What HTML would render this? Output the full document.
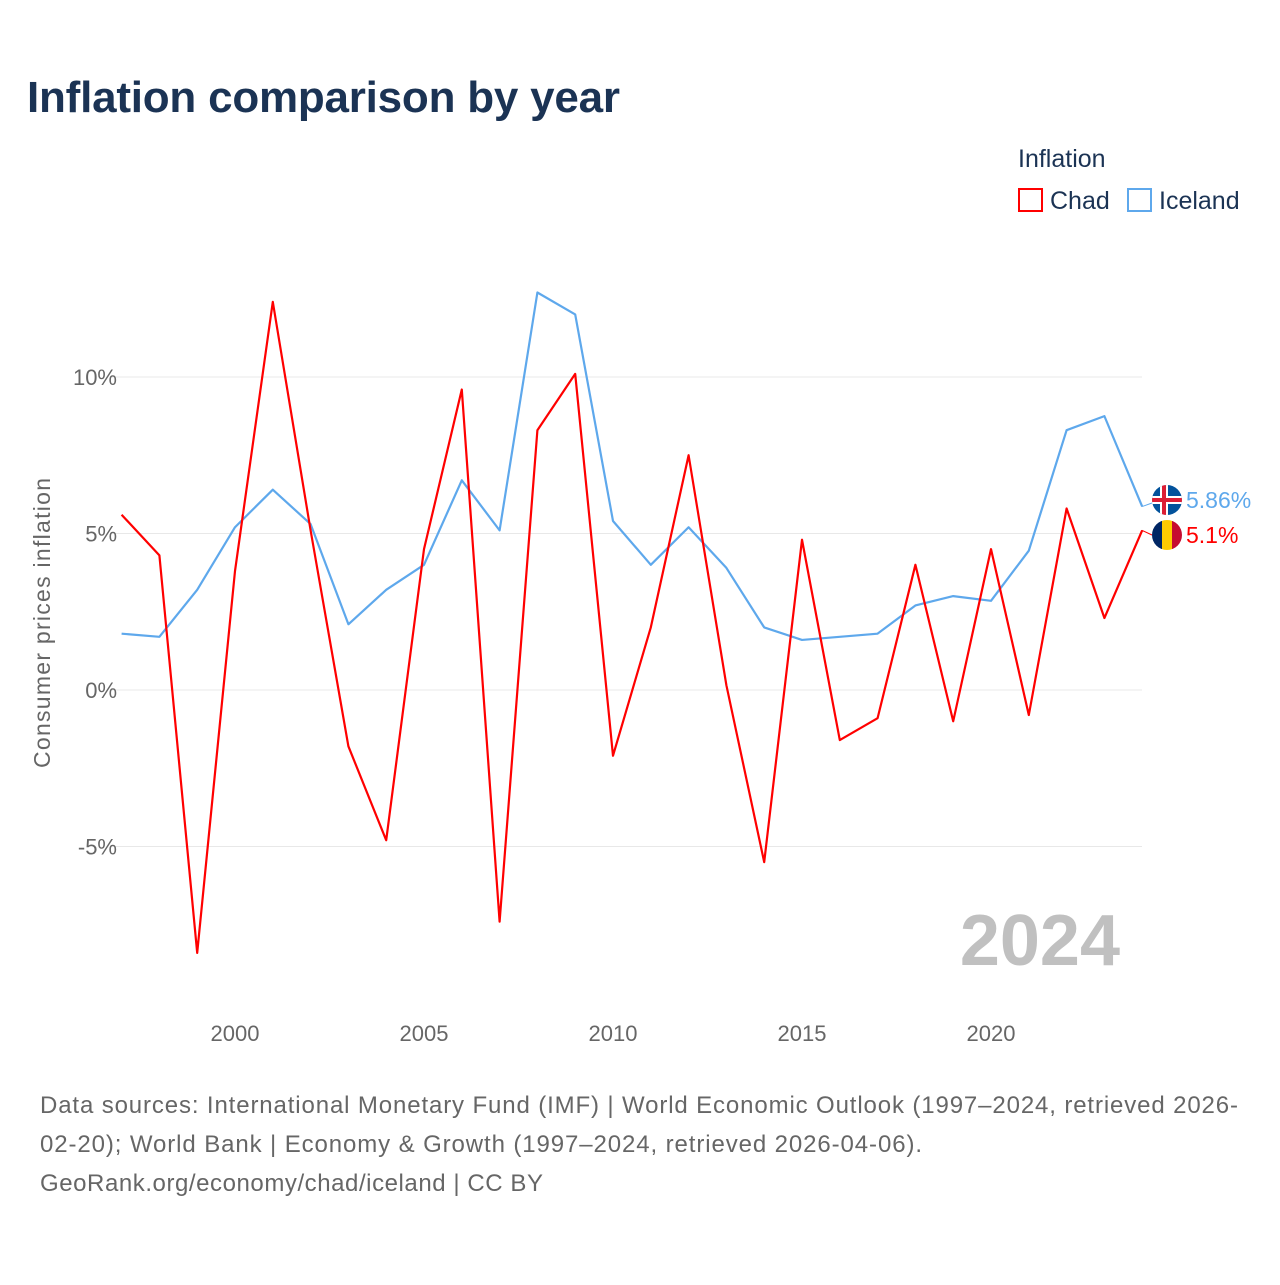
<!DOCTYPE html>
<html><head><meta charset="utf-8"><style>
body{margin:0;background:#fff;width:1280px;height:1280px;overflow:hidden;font-family:"Liberation Sans",sans-serif}
</style></head><body>
<svg id="chart" width="1280" height="1280" xmlns="http://www.w3.org/2000/svg" font-family="Liberation Sans, sans-serif">
<defs>
<clipPath id="ci"><circle cx="1167" cy="500" r="15"/></clipPath>
<clipPath id="cc"><circle cx="1167" cy="535" r="15"/></clipPath>
</defs>
<text x="27" y="112" font-size="44" font-weight="bold" fill="#1b3354" textLength="593">Inflation comparison by year</text>
<g>
<text x="1018" y="167" font-size="25" fill="#1b3354">Inflation</text>
<g><rect x="1019" y="189" width="23" height="22" fill="none" stroke="#f00" stroke-width="2"/><text x="1050" y="209" font-size="25" fill="#1b3354">Chad</text></g>
<g><rect x="1128" y="189" width="23" height="22" fill="none" stroke="#5ea8ec" stroke-width="2"/><text x="1159" y="209" font-size="25" fill="#1b3354">Iceland</text></g>
</g>
<text transform="translate(50,623) rotate(-90)" text-anchor="middle" font-size="23" fill="#666" textLength="290">Consumer prices inflation</text>
<text x="1120" y="965" text-anchor="end" font-size="72" font-weight="bold" fill="#c0c0c0">2024</text>
<g id="grid"></g><g id="xt"></g><g id="lines"></g><g id="ends"></g>
<text x="40" y="1113" font-size="24" fill="#666" textLength="1198">Data sources: International Monetary Fund (IMF) | World Economic Outlook (1997–2024, retrieved 2026-</text>
<text x="40" y="1152" font-size="24" fill="#666" textLength="882">02-20); World Bank | Economy &amp; Growth (1997–2024, retrieved 2026-04-06).</text>
<text x="40" y="1191" font-size="24" fill="#666" textLength="503">GeoRank.org/economy/chad/iceland | CC BY</text>
</svg>
<script>
const years=[1997,1998,1999,2000,2001,2002,2003,2004,2005,2006,2007,2008,2009,2010,2011,2012,2013,2014,2015,2016,2017,2018,2019,2020,2021,2022,2023,2024];
const chad=[5.6,4.3,-8.4,3.8,12.4,5.1,-1.8,-4.8,4.5,9.6,-7.4,8.3,10.1,-2.1,2.0,7.5,0.15,-5.5,4.8,-1.6,-0.9,4.0,-1.0,4.5,-0.8,5.8,2.3,5.1];
const iceland=[1.8,1.7,3.2,5.2,6.4,5.3,2.1,3.2,4.0,6.7,5.1,12.7,12.0,5.4,4.0,5.2,3.9,2.0,1.6,1.7,1.8,2.7,3.0,2.85,4.45,8.3,8.75,5.86];
const yTicks=[-5,0,5,10];
const yTickLabels=["-5%","0%","5%","10%"];
const xTicks=[2000,2005,2010,2015,2020];
const NS="http://www.w3.org/2000/svg";
const X=y=>235+(y-2000)*37.8;
const Y=v=>690-v*31.3;
function mk(t,a,p){const e=document.createElementNS(NS,t);for(const k in a)e.setAttribute(k,a[k]);p.appendChild(e);return e;}
const grid=document.getElementById('grid');
yTicks.forEach((t,i)=>{
 const l=mk('line',{x1:110,x2:1142,y1:Y(t),y2:Y(t),stroke:'#e8e8e8','stroke-width':1},grid);
 
 
 const tx=mk('text',{x:117,y:Y(t)+8,'text-anchor':'end','font-size':22,fill:'#666'},grid);
 tx.textContent=yTickLabels[i];
 
 
});
const xt=document.getElementById('xt');
xTicks.forEach(t=>{
 const tx=mk('text',{x:X(t),y:1041,'text-anchor':'middle','font-size':22,fill:'#666'},xt);
 tx.textContent=t;
 
 
});
const lines=document.getElementById('lines');
[[iceland,'#5ea8ec','iceland-line'],[chad,'#f00','chad-line']].forEach(([d,c,n])=>{
 const p=mk('polyline',{points:d.map((v,i)=>X(years[i])+','+Y(v)).join(' '),fill:'none',stroke:c,'stroke-width':2.2,'stroke-linejoin':'round'},lines);
 
 
});
const ends=document.getElementById('ends');
const last=years.length-1;
let yi=500, yc=535;
mk('line',{x1:1142,x2:1152,y1:Y(iceland[last]),y2:yi+3,stroke:'#5ea8ec'},ends);
mk('line',{x1:1142,x2:1152,y1:Y(chad[last]),y2:yc,stroke:'#f00'},ends);
const fi=mk('g',{'clip-path':'url(#ci)'},ends);


mk('rect',{x:1150,y:yi-17,width:34,height:34,fill:'#02529c'},fi);
mk('rect',{x:1150,y:yi-4,width:34,height:8,fill:'#fff'},fi);
mk('rect',{x:1160,y:yi-17,width:8,height:34,fill:'#fff'},fi);
mk('rect',{x:1150,y:yi-2,width:34,height:4,fill:'#dc1e35'},fi);
mk('rect',{x:1162,y:yi-17,width:4,height:34,fill:'#dc1e35'},fi);
const ti=mk('text',{x:1186,y:yi+8,'font-size':23,fill:'#5ea8ec'},ends);
ti.textContent=iceland[last]+'%';


const fc=mk('g',{'clip-path':'url(#cc)'},ends);


mk('rect',{x:1150,y:yc-17,width:12,height:34,fill:'#002664'},fc);
mk('rect',{x:1162,y:yc-17,width:10,height:34,fill:'#fecb00'},fc);
mk('rect',{x:1172,y:yc-17,width:12,height:34,fill:'#c60c30'},fc);
const tc=mk('text',{x:1186,y:yc+8,'font-size':23,fill:'#f00'},ends);
tc.textContent=chad[last]+'%';


</script>
</body></html>
